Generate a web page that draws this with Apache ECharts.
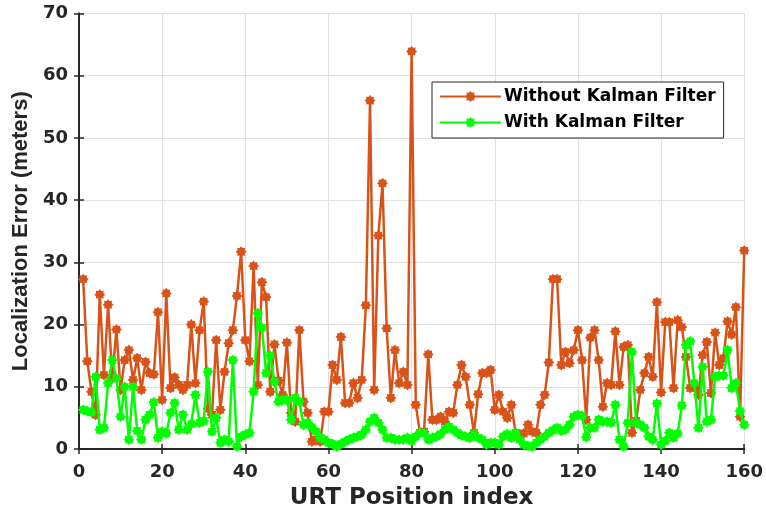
<!DOCTYPE html>
<html>
<head>
<meta charset="utf-8">
<script src="https://cdn.jsdelivr.net/npm/echarts@6/dist/echarts.min.js"></script>
<style>
  html, body { margin: 0; padding: 0; background: #fff; }
  #chart { width: 766px; height: 515px; }
</style>
</head>
<body>
<div id="chart"></div>
<script>
// ---- data ----
const seriesNames = ["Without Kalman Filter", "With Kalman Filter"];
const xTicks = [0, 20, 40, 60, 80, 100, 120, 140, 160];
const yTicks = [0, 10, 20, 30, 40, 50, 60, 70];

const withoutKalman = [
  27.3, 14.1, 9.2, 5.5, 24.8, 11.9, 23.2, 11.4, 19.2, 9.5,
  14.3, 15.9, 11.1, 14.6, 9.5, 14.0, 12.2, 12.0, 22.0, 7.9,
  25.0, 9.8, 11.5, 10.3, 9.5, 10.3, 20.0, 10.6, 19.1, 23.7,
  6.5, 5.5, 17.5, 6.3, 12.4, 17.0, 19.1, 24.6, 31.7, 17.5,
  14.1, 29.4, 10.3, 26.8, 24.4, 9.2, 16.8, 11.0, 8.7, 17.1,
  5.8, 4.4, 19.1, 7.6, 5.8, 1.2, 1.5, 1.2, 6.0, 6.0,
  13.5, 11.1, 18.0, 7.4, 7.4, 10.6, 8.2, 11.1, 23.1, 56.0,
  9.5, 34.3, 42.7, 19.4, 8.2, 15.9, 10.6, 12.4, 10.3, 63.9,
  7.1, 2.6, 2.8, 15.2, 4.7, 4.7, 5.2, 4.4, 6.0, 5.8,
  10.3, 13.5, 11.6, 7.1, 2.6, 8.8, 12.2, 12.2, 12.7, 6.3,
  8.7, 6.0, 5.0, 7.1, 2.6, 2.3, 2.5, 3.9, 2.8, 2.6,
  7.1, 8.7, 13.9, 27.3, 27.3, 13.5, 15.6, 13.8, 15.9, 19.1,
  14.3, 4.7, 17.9, 19.1, 14.3, 6.8, 10.6, 10.3, 18.9, 10.3,
  16.4, 16.7, 2.6, 4.5, 9.5, 12.2, 14.8, 11.6, 23.6, 9.1,
  20.4, 20.4, 9.8, 20.7, 19.6, 14.8, 9.8, 10.0, 8.7, 15.1,
  17.2, 9.0, 18.7, 13.5, 14.6, 20.5, 18.4, 22.8, 5.2, 31.9
];

const withKalman = [
  6.3, 6.1, 5.9, 11.6, 3.1, 3.4, 10.6, 14.3, 11.3, 5.2,
  10.0, 1.5, 10.0, 2.9, 1.5, 4.7, 5.5, 7.5, 1.8, 2.8,
  2.5, 5.8, 7.4, 3.1, 5.5, 3.1, 4.0, 8.7, 4.2, 4.5,
  12.4, 2.8, 5.0, 1.0, 1.5, 1.2, 14.3, 0.4, 2.0, 2.3,
  2.6, 9.2, 21.8, 19.5, 12.2, 15.0, 10.8, 7.6, 7.9, 7.9,
  4.7, 8.2, 7.6, 3.9, 4.2, 3.5, 2.8, 1.8, 1.5, 1.0,
  0.8, 0.4, 0.8, 1.2, 1.5, 1.8, 2.0, 2.3, 3.1, 4.4,
  5.0, 4.2, 3.1, 1.8, 1.8, 1.5, 1.5, 1.5, 1.8, 1.3,
  2.0, 2.6, 2.5, 1.5, 1.8, 2.0, 2.4, 3.1, 3.6, 3.1,
  2.6, 2.2, 2.0, 1.8, 2.4, 1.8, 1.5, 0.7, 1.0, 1.0,
  0.7, 2.0, 2.4, 1.8, 2.6, 1.5, 0.7, 0.5, 0.4, 1.0,
  1.5, 2.0, 2.6, 3.0, 3.4, 2.9, 3.1, 3.9, 5.2, 5.5,
  5.3, 1.9, 3.4, 3.4, 4.7, 4.4, 4.4, 4.2, 7.1, 1.5,
  0.4, 4.2, 15.6, 4.2, 3.9, 3.4, 2.0, 1.5, 7.3, 0.7,
  1.3, 2.6, 1.8, 2.5, 7.0, 16.7, 17.3, 10.6, 3.4, 13.2,
  4.4, 4.7, 11.6, 11.8, 11.8, 15.9, 9.8, 10.6, 6.1, 3.9
];

// position index categories 1..N
const positionIndex = withoutKalman.map((_, i) => i + 1);

// ---- styling helpers ----
function asteriskPath() {
  const pts = [];
  const n = 16;
  for (let k = 0; k < n; k++) {
    const a = (Math.PI * 2 * k) / n;
    const r = k % 2 === 0 ? 10 : 7.2;
    pts.push((10 + r * Math.cos(a)).toFixed(2) + ' ' + (10 + r * Math.sin(a)).toFixed(2));
  }
  return 'path://M' + pts.join(' L') + ' Z';
}
const STAR = asteriskPath();
const TXT = '#262626';
const TICK_FONT = { fontFamily: 'DejaVu Sans', fontWeight: 'bold', fontSize: 18, color: TXT };

const chart = echarts.init(document.getElementById('chart'), null, { renderer: 'canvas' });

const frameLine = { show: true, lineStyle: { color: TXT, width: 2 } };
const tickStyle = { show: true, inside: true, length: 5, lineStyle: { color: TXT, width: 1.5 } };
const option = {
  animation: false,
  backgroundColor: '#ffffff',
  grid: { left: 79, right: 21, top: 13.5, bottom: 64, containLabel: false },
  legend: {
    orient: 'vertical',
    left: 432,
    top: 82,
    padding: [6, 8, 7, 7],
    itemGap: 9,
    itemWidth: 61,
    itemHeight: 14,
    backgroundColor: '#ffffff',
    borderColor: TXT,
    borderWidth: 1,
    borderRadius: 0,
    textStyle: { fontFamily: 'DejaVu Sans', fontWeight: 'bold', fontSize: 17, color: '#000', padding: [0, 0, 0, -2] },
    data: seriesNames
  },
  xAxis: [
    {
      type: 'value', min: xTicks[0], max: xTicks[xTicks.length - 1], interval: 20,
      position: 'bottom',
      name: 'URT Position index', nameLocation: 'middle', nameGap: 38,
      nameTextStyle: { fontFamily: 'DejaVu Sans', fontWeight: 'bold', fontSize: 23, color: TXT },
      axisLine: frameLine,
      axisTick: tickStyle,
      axisLabel: Object.assign({ margin: 14 }, TICK_FONT),
      splitLine: { show: true, lineStyle: { color: '#e0e0e0', width: 1 } }
    },
    {
      type: 'value', min: xTicks[0], max: xTicks[xTicks.length - 1], interval: 20,
      position: 'top',
      axisLine: frameLine,
      axisTick: tickStyle,
      axisLabel: { show: false },
      splitLine: { show: false }
    }
  ],
  yAxis: [
    {
      type: 'value', min: yTicks[0], max: yTicks[yTicks.length - 1], interval: 10,
      position: 'left',
      name: 'Localization Error (meters)', nameLocation: 'middle', nameGap: 46,
      nameTextStyle: { fontFamily: 'Liberation Sans', fontWeight: 'bold', fontSize: 22, color: TXT },
      axisLine: frameLine,
      axisTick: tickStyle,
      axisLabel: Object.assign({ margin: 11 }, TICK_FONT),
      splitLine: { show: true, lineStyle: { color: '#e0e0e0', width: 1 } }
    },
    {
      type: 'value', min: yTicks[0], max: yTicks[yTicks.length - 1], interval: 10,
      position: 'right',
      axisLine: frameLine,
      axisTick: tickStyle,
      axisLabel: { show: false },
      splitLine: { show: false }
    }
  ],
  series: [
    {
      name: seriesNames[0], type: 'line',
      xAxisIndex: 0, yAxisIndex: 0,
      data: positionIndex.map((x, i) => [x, withoutKalman[i]]),
      symbol: STAR, symbolSize: 11, showAllSymbol: true,
      color: '#D95319',
      itemStyle: { color: '#D95319' },
      lineStyle: { color: '#D95319', width: 2.5 },
      z: 2
    },
    {
      name: seriesNames[1], type: 'line',
      xAxisIndex: 0, yAxisIndex: 0,
      data: positionIndex.map((x, i) => [x, withKalman[i]]),
      symbol: STAR, symbolSize: 11, showAllSymbol: true,
      color: '#00FF00',
      itemStyle: { color: '#00FF00' },
      lineStyle: { color: '#00FF00', width: 2.5 },
      z: 3
    }
  ]
};
chart.setOption(option);
</script>
</body>
</html>
